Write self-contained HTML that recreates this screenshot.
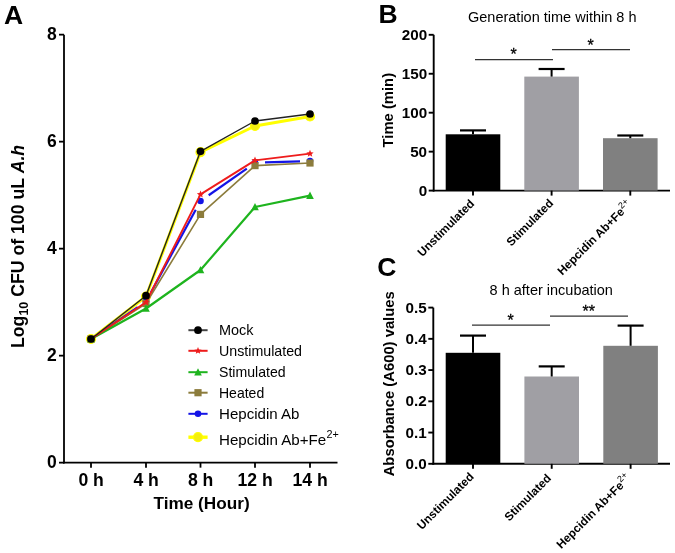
<!DOCTYPE html>
<html><head><meta charset="utf-8"><style>
html,body{margin:0;padding:0;background:#fff;}
svg{display:block;will-change:transform;}
text{font-family:"Liberation Sans", sans-serif;fill:#000;}
</style></head><body>
<svg width="675" height="553" viewBox="0 0 675 553">
<rect width="675" height="553" fill="#fff"/>
<line x1="64" y1="34.65" x2="64" y2="463.54999999999995" stroke="#000" stroke-width="1.8"/>
<line x1="63.1" y1="462.65" x2="337.5" y2="462.65" stroke="#000" stroke-width="1.8"/>
<line x1="59" y1="462.65" x2="64" y2="462.65" stroke="#000" stroke-width="1.8"/>
<text x="56.8" y="468.40" font-size="17.5" font-weight="bold" text-anchor="end">0</text>
<line x1="59" y1="355.65" x2="64" y2="355.65" stroke="#000" stroke-width="1.8"/>
<text x="56.8" y="361.40" font-size="17.5" font-weight="bold" text-anchor="end">2</text>
<line x1="59" y1="248.65" x2="64" y2="248.65" stroke="#000" stroke-width="1.8"/>
<text x="56.8" y="254.40" font-size="17.5" font-weight="bold" text-anchor="end">4</text>
<line x1="59" y1="141.65" x2="64" y2="141.65" stroke="#000" stroke-width="1.8"/>
<text x="56.8" y="147.40" font-size="17.5" font-weight="bold" text-anchor="end">6</text>
<line x1="59" y1="34.65" x2="64" y2="34.65" stroke="#000" stroke-width="1.8"/>
<text x="56.8" y="40.40" font-size="17.5" font-weight="bold" text-anchor="end">8</text>
<line x1="91" y1="462.65" x2="91" y2="467.65" stroke="#000" stroke-width="1.8"/>
<text transform="translate(91.1,485.8)" font-size="17.6" font-weight="bold" text-anchor="middle">0 h</text>
<line x1="146" y1="462.65" x2="146" y2="467.65" stroke="#000" stroke-width="1.8"/>
<text transform="translate(146.1,485.8)" font-size="17.6" font-weight="bold" text-anchor="middle">4 h</text>
<line x1="200.5" y1="462.65" x2="200.5" y2="467.65" stroke="#000" stroke-width="1.8"/>
<text transform="translate(200.6,485.8)" font-size="17.6" font-weight="bold" text-anchor="middle">8 h</text>
<line x1="255" y1="462.65" x2="255" y2="467.65" stroke="#000" stroke-width="1.8"/>
<text transform="translate(255.1,485.8)" font-size="17.6" font-weight="bold" text-anchor="middle">12 h</text>
<line x1="310" y1="462.65" x2="310" y2="467.65" stroke="#000" stroke-width="1.8"/>
<text transform="translate(310.1,485.8)" font-size="17.6" font-weight="bold" text-anchor="middle">14 h</text>
<text x="201.6" y="509" font-size="17.2" font-weight="bold" text-anchor="middle">Time (Hour)</text>
<text transform="translate(24.2,348) rotate(-90)" font-size="17.7" font-weight="bold">Log<tspan font-size="12.4" dy="3.3">10</tspan><tspan dy="-3.3"> CFU of 100 uL </tspan><tspan font-style="italic">A.h</tspan></text>
<text x="4" y="23.9" font-size="26.5" font-weight="bold">A</text>
<polyline points="91,339 146,296.5 200.5,152.2 255,126 310,116.5" fill="none" stroke="#ffff00" stroke-width="3.0" stroke-linejoin="round"/>
<circle cx="91" cy="339" r="4.5" fill="#f4ee10" stroke="#ffff00" stroke-width="1.2"/>
<circle cx="146" cy="296.5" r="4.5" fill="#f4ee10" stroke="#ffff00" stroke-width="1.2"/>
<circle cx="200.5" cy="152.2" r="4.5" fill="#f4ee10" stroke="#ffff00" stroke-width="1.2"/>
<circle cx="255" cy="126" r="4.5" fill="#f4ee10" stroke="#ffff00" stroke-width="1.2"/>
<circle cx="310" cy="116.5" r="4.5" fill="#f4ee10" stroke="#ffff00" stroke-width="1.2"/>
<line x1="99.26" y1="333.37" x2="137.74" y2="307.13" stroke="#1414e6" stroke-width="2.2"/>
<line x1="150.77" y1="292.71" x2="195.73" y2="209.79" stroke="#1414e6" stroke-width="2.2"/>
<line x1="208.69" y1="195.26" x2="246.81" y2="168.54" stroke="#1414e6" stroke-width="2.2"/>
<line x1="264.99" y1="162.47" x2="300.01" y2="161.33" stroke="#1414e6" stroke-width="2.2"/>
<circle cx="91" cy="339" r="3.3" fill="#1414e6"/>
<circle cx="146" cy="301.5" r="3.3" fill="#1414e6"/>
<circle cx="200.5" cy="201" r="3.3" fill="#1414e6"/>
<circle cx="255" cy="162.8" r="3.3" fill="#1414e6"/>
<circle cx="310" cy="161" r="3.3" fill="#1414e6"/>
<polyline points="91,339 146,303.5 200.5,214.4 255,165.6 310,163" fill="none" stroke="#8c7c3c" stroke-width="1.6" stroke-linejoin="round"/>
<rect x="87.4" y="335.4" width="7.2" height="7.2" fill="#8c7c3c"/>
<rect x="142.4" y="299.9" width="7.2" height="7.2" fill="#8c7c3c"/>
<rect x="196.9" y="210.8" width="7.2" height="7.2" fill="#8c7c3c"/>
<rect x="251.4" y="162.0" width="7.2" height="7.2" fill="#8c7c3c"/>
<rect x="306.4" y="159.4" width="7.2" height="7.2" fill="#8c7c3c"/>
<polyline points="91,339 146,308.5 200.5,270 255,207 310,195.6" fill="none" stroke="#1eb41e" stroke-width="2.2" stroke-linejoin="round"/>
<polygon points="91.00,334.95 94.80,342.32 87.20,342.32" fill="#1eb41e"/>
<polygon points="146.00,304.45 149.80,311.82 142.20,311.82" fill="#1eb41e"/>
<polygon points="200.50,265.95 204.30,273.32 196.70,273.32" fill="#1eb41e"/>
<polygon points="255.00,202.95 258.80,210.32 251.20,210.32" fill="#1eb41e"/>
<polygon points="310.00,191.55 313.80,198.92 306.20,198.92" fill="#1eb41e"/>
<polyline points="91,339 146,302.3 200.5,194.4 255,160.4 310,153.6" fill="none" stroke="#ee1c1c" stroke-width="1.9" stroke-linejoin="round"/>
<polygon points="91.00,335.20 92.01,337.62 94.61,337.83 92.63,339.53 93.23,342.07 91.00,340.71 88.77,342.07 89.37,339.53 87.39,337.83 89.99,337.62" fill="#ee1c1c"/>
<polygon points="146.00,298.50 147.01,300.92 149.61,301.13 147.63,302.83 148.23,305.37 146.00,304.01 143.77,305.37 144.37,302.83 142.39,301.13 144.99,300.92" fill="#ee1c1c"/>
<polygon points="200.50,190.60 201.51,193.02 204.11,193.23 202.13,194.93 202.73,197.47 200.50,196.11 198.27,197.47 198.87,194.93 196.89,193.23 199.49,193.02" fill="#ee1c1c"/>
<polygon points="255.00,156.60 256.01,159.02 258.61,159.23 256.63,160.93 257.23,163.47 255.00,162.11 252.77,163.47 253.37,160.93 251.39,159.23 253.99,159.02" fill="#ee1c1c"/>
<polygon points="310.00,149.80 311.01,152.22 313.61,152.43 311.63,154.13 312.23,156.67 310.00,155.31 307.77,156.67 308.37,154.13 306.39,152.43 308.99,152.22" fill="#ee1c1c"/>
<polyline points="91,339 146,295.7 200.5,151.3 255,121 310,114" fill="none" stroke="#222" stroke-width="1.4" stroke-linejoin="round"/>
<circle cx="91" cy="339" r="3.85" fill="#000"/>
<circle cx="146" cy="295.7" r="3.85" fill="#000"/>
<circle cx="200.5" cy="151.3" r="3.85" fill="#000"/>
<circle cx="255" cy="121" r="3.85" fill="#000"/>
<circle cx="310" cy="114" r="3.85" fill="#000"/>
<line x1="188.4" y1="330.2" x2="207.6" y2="330.2" stroke="#444" stroke-width="2"/>
<circle cx="198" cy="330.2" r="3.85" fill="#000"/>
<text x="219" y="335.1" font-size="14.5" textLength="34.6" lengthAdjust="spacingAndGlyphs">Mock</text>
<line x1="188.4" y1="350.8" x2="207.6" y2="350.8" stroke="#ee1c1c" stroke-width="2"/>
<polygon points="198.00,347.00 199.01,349.42 201.61,349.63 199.63,351.33 200.23,353.87 198.00,352.51 195.77,353.87 196.37,351.33 194.39,349.63 196.99,349.42" fill="#ee1c1c"/>
<text x="219" y="355.7" font-size="14.5" textLength="83.0" lengthAdjust="spacingAndGlyphs">Unstimulated</text>
<line x1="188.4" y1="372.2" x2="207.6" y2="372.2" stroke="#1eb41e" stroke-width="2"/>
<polygon points="198.00,368.15 201.80,375.52 194.20,375.52" fill="#1eb41e"/>
<text x="219" y="377.1" font-size="14.5" textLength="66.6" lengthAdjust="spacingAndGlyphs">Stimulated</text>
<line x1="188.4" y1="392.7" x2="207.6" y2="392.7" stroke="#8c7c3c" stroke-width="2"/>
<rect x="194.4" y="389.09999999999997" width="7.2" height="7.2" fill="#8c7c3c"/>
<text x="219" y="397.6" font-size="14.5" textLength="45.2" lengthAdjust="spacingAndGlyphs">Heated</text>
<line x1="188.4" y1="413.8" x2="207.6" y2="413.8" stroke="#1414e6" stroke-width="2"/>
<circle cx="198" cy="413.8" r="3.3" fill="#1414e6"/>
<text x="219" y="418.7" font-size="14.5" textLength="80.4" lengthAdjust="spacingAndGlyphs">Hepcidin Ab</text>
<line x1="188.4" y1="437.2" x2="207.6" y2="437.2" stroke="#ffff00" stroke-width="3.4"/>
<circle cx="198" cy="437.2" r="4.5" fill="#f4ee10" stroke="#ffff00" stroke-width="1.2"/>
<text x="219" y="444.7" font-size="14.5" textLength="107.2" lengthAdjust="spacingAndGlyphs">Hepcidin Ab+Fe</text>
<text x="326.4" y="438.3" font-size="10.8">2+</text>
<line x1="433.7" y1="34.8" x2="433.7" y2="191.5" stroke="#000" stroke-width="1.9"/>
<line x1="432.8" y1="190.6" x2="670" y2="190.6" stroke="#000" stroke-width="1.9"/>
<line x1="428.7" y1="190.60" x2="433.7" y2="190.60" stroke="#000" stroke-width="1.9"/>
<text transform="translate(427.09999999999997,195.70) scale(1.065,1)" font-size="14.3" font-weight="bold" text-anchor="end">0</text>
<line x1="428.7" y1="151.65" x2="433.7" y2="151.65" stroke="#000" stroke-width="1.9"/>
<text transform="translate(427.09999999999997,156.75) scale(1.065,1)" font-size="14.3" font-weight="bold" text-anchor="end">50</text>
<line x1="428.7" y1="112.70" x2="433.7" y2="112.70" stroke="#000" stroke-width="1.9"/>
<text transform="translate(427.09999999999997,117.80) scale(1.065,1)" font-size="14.3" font-weight="bold" text-anchor="end">100</text>
<line x1="428.7" y1="73.75" x2="433.7" y2="73.75" stroke="#000" stroke-width="1.9"/>
<text transform="translate(427.09999999999997,78.85) scale(1.065,1)" font-size="14.3" font-weight="bold" text-anchor="end">150</text>
<line x1="428.7" y1="34.80" x2="433.7" y2="34.80" stroke="#000" stroke-width="1.9"/>
<text transform="translate(427.09999999999997,39.90) scale(1.065,1)" font-size="14.3" font-weight="bold" text-anchor="end">200</text>
<rect x="445.70" y="134.3" width="54.6" height="56.29999999999998" fill="#000"/>
<line x1="473" y1="130.4" x2="473" y2="134.3" stroke="#000" stroke-width="2"/>
<line x1="460" y1="130.4" x2="486" y2="130.4" stroke="#000" stroke-width="2.2"/>
<line x1="473" y1="190.6" x2="473" y2="195.6" stroke="#000" stroke-width="1.9"/>
<rect x="524.30" y="76.6" width="54.6" height="114.0" fill="#a09fa4"/>
<line x1="551.6" y1="69" x2="551.6" y2="76.6" stroke="#000" stroke-width="2"/>
<line x1="538.6" y1="69" x2="564.6" y2="69" stroke="#000" stroke-width="2.2"/>
<line x1="551.6" y1="190.6" x2="551.6" y2="195.6" stroke="#000" stroke-width="1.9"/>
<rect x="603.00" y="138.2" width="54.6" height="52.400000000000006" fill="#808080"/>
<line x1="630.3" y1="135.5" x2="630.3" y2="138.2" stroke="#000" stroke-width="2"/>
<line x1="617.3" y1="135.5" x2="643.3" y2="135.5" stroke="#000" stroke-width="2.2"/>
<line x1="630.3" y1="190.6" x2="630.3" y2="195.6" stroke="#000" stroke-width="1.9"/>
<line x1="475" y1="59.6" x2="553" y2="59.6" stroke="#333" stroke-width="1.3"/>
<text x="513.6" y="60.3" font-size="16" text-anchor="middle" stroke="#000" stroke-width="0.3">*</text>
<line x1="552" y1="49.6" x2="630" y2="49.6" stroke="#333" stroke-width="1.3"/>
<text x="590.6" y="51.099999999999994" font-size="16" text-anchor="middle" stroke="#000" stroke-width="0.3">*</text>
<text x="468" y="22.1" font-size="14.5">Generation time within 8 h</text>
<text x="378.5" y="22.8" font-size="26.5" font-weight="bold">B</text>
<text transform="translate(392.5,110.2) rotate(-90)" font-size="14.8" font-weight="bold" text-anchor="middle">Time (min)</text>
<text transform="translate(475.00,204.30) rotate(-45)" font-size="11.8" font-weight="bold" text-anchor="end">Unstimulated</text>
<text transform="translate(554.00,204.00) rotate(-45)" font-size="11.8" font-weight="bold" text-anchor="end">Stimulated</text>
<text transform="translate(632.45,205.45) rotate(-45)" font-size="11.8" font-weight="bold" text-anchor="end">Hepcidin Ab+Fe<tspan font-size="9" dy="-5" font-weight="normal">2+</tspan></text>
<line x1="433.3" y1="307.6" x2="433.3" y2="464.7" stroke="#000" stroke-width="1.9"/>
<line x1="432.40000000000003" y1="463.8" x2="670" y2="463.8" stroke="#000" stroke-width="1.9"/>
<line x1="428.3" y1="463.80" x2="433.3" y2="463.80" stroke="#000" stroke-width="1.9"/>
<text transform="translate(426.7,468.90) scale(1.065,1)" font-size="14.3" font-weight="bold" text-anchor="end">0.0</text>
<line x1="428.3" y1="432.56" x2="433.3" y2="432.56" stroke="#000" stroke-width="1.9"/>
<text transform="translate(426.7,437.66) scale(1.065,1)" font-size="14.3" font-weight="bold" text-anchor="end">0.1</text>
<line x1="428.3" y1="401.32" x2="433.3" y2="401.32" stroke="#000" stroke-width="1.9"/>
<text transform="translate(426.7,406.42) scale(1.065,1)" font-size="14.3" font-weight="bold" text-anchor="end">0.2</text>
<line x1="428.3" y1="370.08" x2="433.3" y2="370.08" stroke="#000" stroke-width="1.9"/>
<text transform="translate(426.7,375.18) scale(1.065,1)" font-size="14.3" font-weight="bold" text-anchor="end">0.3</text>
<line x1="428.3" y1="338.84" x2="433.3" y2="338.84" stroke="#000" stroke-width="1.9"/>
<text transform="translate(426.7,343.94) scale(1.065,1)" font-size="14.3" font-weight="bold" text-anchor="end">0.4</text>
<line x1="428.3" y1="307.60" x2="433.3" y2="307.60" stroke="#000" stroke-width="1.9"/>
<text transform="translate(426.7,312.70) scale(1.065,1)" font-size="14.3" font-weight="bold" text-anchor="end">0.5</text>
<rect x="445.70" y="352.8" width="54.6" height="111.0" fill="#000"/>
<line x1="473" y1="335.6" x2="473" y2="352.8" stroke="#000" stroke-width="2"/>
<line x1="460" y1="335.6" x2="486" y2="335.6" stroke="#000" stroke-width="2.2"/>
<line x1="473" y1="463.8" x2="473" y2="468.8" stroke="#000" stroke-width="1.9"/>
<rect x="524.40" y="376.5" width="54.6" height="87.30000000000001" fill="#a09fa4"/>
<line x1="551.7" y1="366.4" x2="551.7" y2="376.5" stroke="#000" stroke-width="2"/>
<line x1="538.7" y1="366.4" x2="564.7" y2="366.4" stroke="#000" stroke-width="2.2"/>
<line x1="551.7" y1="463.8" x2="551.7" y2="468.8" stroke="#000" stroke-width="1.9"/>
<rect x="603.30" y="345.8" width="54.6" height="118.0" fill="#808080"/>
<line x1="630.6" y1="325.6" x2="630.6" y2="345.8" stroke="#000" stroke-width="2"/>
<line x1="617.6" y1="325.6" x2="643.6" y2="325.6" stroke="#000" stroke-width="2.2"/>
<line x1="630.6" y1="463.8" x2="630.6" y2="468.8" stroke="#000" stroke-width="1.9"/>
<line x1="472" y1="325.2" x2="550" y2="325.2" stroke="#333" stroke-width="1.3"/>
<text x="510.6" y="326.3" font-size="16" text-anchor="middle" stroke="#000" stroke-width="0.3">*</text>
<line x1="550" y1="316.2" x2="628" y2="316.2" stroke="#333" stroke-width="1.3"/>
<text x="588.8" y="317.3" font-size="16" text-anchor="middle" stroke="#000" stroke-width="0.3">**</text>
<text x="489.6" y="295.2" font-size="14.5">8 h after incubation</text>
<text x="377.2" y="275.5" font-size="26.5" font-weight="bold">C</text>
<text transform="translate(394.2,383.8) rotate(-90)" font-size="14.8" font-weight="bold" text-anchor="middle">Absorbance (A600) values</text>
<text transform="translate(474.50,477.50) rotate(-45)" font-size="11.8" font-weight="bold" text-anchor="end">Unstimulated</text>
<text transform="translate(551.90,479.00) rotate(-45)" font-size="11.8" font-weight="bold" text-anchor="end">Stimulated</text>
<text transform="translate(631.55,479.15) rotate(-45)" font-size="11.8" font-weight="bold" text-anchor="end">Hepcidin Ab+Fe<tspan font-size="9" dy="-5" font-weight="normal">2+</tspan></text>
</svg></body></html>
